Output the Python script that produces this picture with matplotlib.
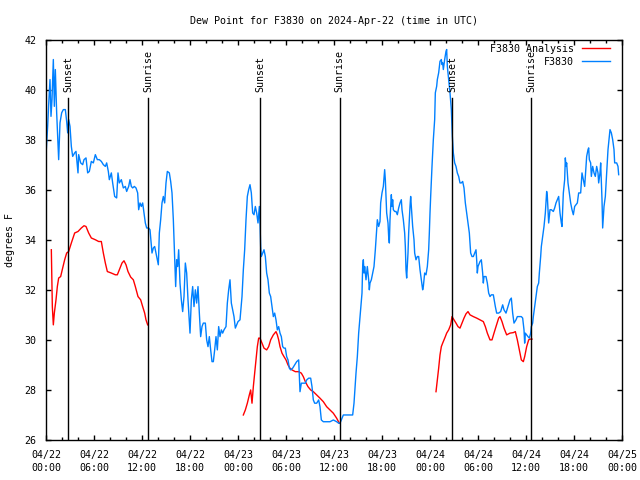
import matplotlib
matplotlib.use('Agg')
import matplotlib.pyplot as plt
import matplotlib.dates as mdates
import pandas as pd

# minutes after 2024-04-22 00:00 UTC and dew point (deg F)
obs_min = [0, 12.5, 20, 30, 37.5, 45, 55, 62.5, 70, 80, 90, 95, 105, 117.5, 130, 145, 155, 162.5, 170, 180,
           190, 200, 215, 225, 240, 245, 260, 275, 285, 300, 312.5, 325, 340, 355, 370, 385, 400, 415, 430, 445,
           455, 467.5, 475, 490, 500, 515, 530, 540, 550, 565, 580, 595, 605, 620, 630, 640, 650, 662.5, 675, 687.5,
           695, 705, 715, 725, 735, 745, 755, 770, 780, 787.5, 795, 805, 815, 825, 835, 842.5, 850, 860, 870, 880,
           890, 900, 910, 925, 935, 945, 955, 965, 972.5, 980, 987.5, 995, 1005, 1015, 1025, 1035, 1045, 1055, 1065, 1075,
           1080, 1090, 1100, 1110, 1120, 1130, 1140, 1150, 1160, 1170, 1180, 1195, 1205, 1215, 1225, 1235, 1245, 1255, 1265, 1275,
           1285, 1295, 1305, 1315, 1325, 1335, 1350, 1360, 1370, 1380, 1390, 1400, 1410, 1420, 1430, 1440, 1455, 1470, 1480, 1490,
           1500, 1510, 1520, 1530, 1540, 1550, 1560, 1570, 1580, 1590, 1600, 1605, 1610, 1615, 1625, 1635, 1645, 1655, 1665, 1675,
           1685, 1695, 1705, 1715, 1725, 1735, 1745, 1755, 1765, 1775, 1785, 1795, 1805, 1815, 1825, 1835, 1850, 1865, 1880, 1895,
           1905, 1915, 1930, 1945, 1955, 1970, 1985, 1995, 2005, 2015, 2030, 2045, 2055, 2065, 2080, 2105, 2130, 2155, 2180, 2195,
           2205, 2220, 2230, 2255, 2280, 2300, 2310, 2315, 2325, 2335, 2345, 2355, 2365, 2370, 2375, 2380, 2385, 2390, 2395, 2400,
           2410, 2420, 2425, 2430, 2440, 2450, 2460, 2470, 2480, 2485, 2495, 2505, 2510, 2520, 2530, 2540, 2545, 2555, 2565, 2570,
           2575, 2580, 2590, 2595, 2600, 2605, 2615, 2625, 2635, 2645, 2655, 2665, 2670, 2680, 2690, 2695, 2700, 2705, 2715, 2720,
           2725, 2730, 2735, 2740, 2750, 2760, 2765, 2775, 2785, 2795, 2805, 2815, 2825, 2830, 2840, 2850, 2860, 2870, 2875, 2880,
           2885, 2895, 2905, 2915, 2920, 2930, 2935, 2945, 2955, 2965, 2970, 2975, 2980, 2990, 3000, 3005, 3010, 3020, 3030, 3040,
           3047.5, 3055, 3065, 3075, 3085, 3095, 3105, 3115, 3125, 3135, 3145, 3155, 3165, 3175, 3185, 3195, 3205, 3215, 3225, 3230,
           3235, 3240, 3250, 3255, 3265, 3275, 3280, 3285, 3300, 3310, 3320, 3330, 3340, 3355, 3370, 3380, 3395, 3410, 3425, 3435,
           3450, 3465, 3480, 3490, 3500, 3510, 3525, 3535, 3550, 3565, 3575, 3585, 3590, 3595, 3605, 3615, 3625, 3635, 3640, 3650,
           3655, 3665, 3675, 3685, 3695, 3700, 3710, 3715, 3725, 3735, 3745, 3755, 3760, 3765, 3770, 3775, 3780, 3790, 3805, 3815,
           3825, 3835, 3845, 3855, 3865, 3870, 3880, 3890, 3895, 3900, 3905, 3915, 3925, 3935, 3945, 3955, 3965, 3975, 3985, 3995,
           4010, 4020, 4030, 4040, 4050, 4055, 4065, 4070, 4075, 4085, 4090, 4100, 4110, 4120, 4130, 4140, 4145, 4155, 4160, 4170,
           4175, 4185, 4195, 4205, 4215, 4225, 4230, 4240, 4250, 4260, 4265, 4280, 4290, 4295]
obs_dewp = [37.4, 38.53, 39.4, 40.4, 38.93, 39.6, 41.2, 39.33, 40.8, 39.07, 37.87, 37.2, 38.67, 39.07, 39.2, 39.2, 38.73, 38.27, 38.8, 38.53,
            37.73, 37.33, 37.47, 37.53, 36.67, 37.4, 37.07, 37.0, 37.2, 37.27, 36.67, 36.73, 37.13, 37.07, 37.4, 37.2, 37.2, 37.13, 37.0, 36.93,
            37.07, 36.73, 36.4, 36.67, 36.27, 35.73, 35.67, 36.67, 36.27, 36.4, 36.07, 36.13, 35.93, 36.13, 36.4, 36.13, 36.07, 36.13, 36.07, 35.87,
            35.2, 35.47, 35.33, 35.47, 35.07, 34.67, 34.47, 34.47, 34.4, 33.93, 33.47, 33.67, 33.73, 33.47, 33.2, 33.0, 34.27, 34.8, 35.47, 35.73,
            35.47, 36.27, 36.73, 36.67, 36.33, 35.87, 34.8, 33.33, 32.13, 33.2, 32.93, 33.6, 32.27, 31.6, 31.13, 31.73, 33.07, 32.67, 31.6, 30.67,
            30.27, 31.6, 32.13, 31.33, 32.0, 31.47, 32.13, 31.07, 30.13, 30.53, 30.67, 30.67, 30.0, 29.73, 30.13, 29.6, 29.13, 29.13, 29.6, 30.13,
            29.6, 30.53, 30.13, 30.4, 30.27, 30.4, 30.53, 31.47, 32.0, 32.4, 31.47, 31.2, 30.93, 30.47, 30.6, 30.73, 30.8, 31.73, 32.8, 33.6,
            34.8, 35.73, 36.0, 36.2, 35.87, 35.07, 35.0, 35.33, 35.07, 34.67, 35.33, 34.67, 33.73, 33.33, 33.47, 33.6, 33.33, 32.67, 32.4, 31.87,
            31.73, 31.33, 30.93, 31.07, 30.8, 30.4, 30.53, 30.27, 30.13, 29.73, 29.67, 29.67, 29.33, 29.2, 28.87, 28.8, 28.87, 29.0, 29.13, 29.2,
            27.93, 28.27, 28.27, 28.27, 28.4, 28.47, 28.47, 28.13, 27.6, 27.47, 27.47, 27.6, 27.33, 26.8, 26.73, 26.73, 26.73, 26.8, 26.73, 26.67,
            26.67, 26.87, 27.0, 27.0, 27.0, 27.0, 27.47, 27.87, 28.67, 29.33, 30.27, 30.93, 31.6, 31.87, 32.93, 33.2, 32.67, 32.93, 32.67, 32.4,
            32.93, 32.4, 32.0, 32.27, 32.4, 32.67, 32.93, 33.6, 34.4, 34.8, 34.53, 34.73, 35.47, 35.87, 36.13, 36.8, 36.4, 35.07, 34.67, 34.13,
            33.87, 34.8, 35.8, 35.33, 35.6, 35.2, 35.13, 35.13, 35.0, 35.27, 35.47, 35.6, 35.2, 34.8, 34.27, 33.73, 32.8, 32.47, 33.47, 34.27,
            34.8, 35.33, 35.73, 35.33, 34.53, 34.0, 33.47, 33.2, 33.33, 33.33, 32.8, 32.4, 32.0, 32.13, 32.67, 32.6, 32.93, 33.6, 34.27, 35.07,
            35.73, 36.93, 38.0, 38.8, 39.87, 40.13, 40.4, 40.67, 41.13, 41.2, 41.0, 41.07, 40.8, 41.2, 41.53, 41.6, 40.93, 40.4, 39.87, 39.2,
            38.13, 37.47, 37.07, 36.93, 36.67, 36.53, 36.27, 36.27, 36.33, 36.07, 35.47, 35.07, 34.67, 34.27, 33.47, 33.33, 33.33, 33.47, 33.6, 33.2,
            32.67, 32.93, 33.07, 33.13, 33.2, 32.67, 32.27, 32.53, 32.53, 32.27, 31.87, 31.73, 31.8, 31.8, 31.33, 31.07, 31.07, 31.13, 31.4, 31.2,
            31.07, 31.33, 31.6, 31.67, 31.07, 30.67, 30.8, 30.93, 30.93, 30.93, 30.87, 30.4, 29.87, 30.27, 30.2, 30.13, 30.07, 30.27, 30.53, 30.67,
            30.93, 31.33, 31.73, 32.13, 32.27, 32.67, 33.33, 33.73, 34.13, 34.53, 35.07, 35.93, 35.73, 35.2, 34.67, 34.93, 35.2, 35.2, 35.13, 35.27,
            35.47, 35.6, 35.73, 35.07, 34.67, 34.53, 35.87, 36.4, 37.27, 36.93, 37.07, 36.27, 35.87, 35.47, 35.2, 35.0, 35.33, 35.4, 35.47, 35.87,
            35.87, 36.67, 36.4, 36.13, 36.93, 37.33, 37.6, 37.67, 37.2, 37.07, 36.53, 36.93, 36.67, 36.53, 36.93, 36.67, 36.27, 36.67, 37.07, 35.6,
            34.47, 35.33, 35.73, 36.67, 37.6, 38.13, 38.4, 38.27, 38.0, 37.6, 37.07, 37.07, 36.93, 36.6]

# analysis series, three separate segments
ana_min = [
    [40, 47.5, 55, 62.5, 75, 85, 95, 110, 125, 140, 155, 170, 190, 215, 240, 265, 285, 300, 320, 340,
     370, 395, 415, 430, 445, 460, 490, 520, 535, 550, 570, 585, 600, 615, 635, 655, 670, 690, 710, 725,
     740, 750, 762.5],
    [1480, 1495, 1510, 1525, 1535, 1545, 1555, 1565, 1575, 1585, 1595, 1605, 1620, 1635, 1655, 1670, 1685, 1705, 1725, 1735,
     1745, 1755, 1770, 1785, 1800, 1815, 1830, 1845, 1870, 1895, 1915, 1930, 1945, 1965, 1985, 2005, 2030, 2055, 2080, 2105,
     2130, 2155, 2180, 2200],
    [2925, 2935, 2945, 2955, 2965, 2975, 2985, 2995, 3005, 3020, 3035, 3045, 3060, 3075, 3090, 3105, 3120, 3135, 3150, 3165,
     3180, 3205, 3230, 3255, 3280, 3295, 3310, 3330, 3345, 3360, 3375, 3395, 3405, 3420, 3435, 3455, 3480, 3505, 3520, 3535,
     3550, 3565, 3580, 3590, 3605, 3620, 3630, 3645],
]
ana_dewp = [
    [33.6, 31.33, 30.6, 31.07, 31.6, 32.13, 32.47, 32.53, 32.87, 33.2, 33.47, 33.53, 33.87, 34.27, 34.33, 34.47, 34.56, 34.53, 34.27, 34.07,
     34.0, 33.93, 33.93, 33.47, 33.07, 32.73, 32.67, 32.6, 32.6, 32.8, 33.07, 33.16, 33.0, 32.73, 32.51, 32.4, 32.13, 31.73, 31.6, 31.33,
     31.07, 30.8, 30.6],
    [27.0, 27.2, 27.47, 27.8, 28.0, 27.47, 28.13, 28.67, 29.2, 29.73, 30.07, 30.07, 29.87, 29.67, 29.6, 29.73, 30.0, 30.2, 30.33, 30.2,
     30.0, 29.73, 29.47, 29.33, 29.2, 29.0, 28.87, 28.8, 28.73, 28.73, 28.67, 28.53, 28.33, 28.13, 28.0, 27.93, 27.8, 27.67, 27.53, 27.33,
     27.2, 27.07, 26.87, 26.67],
    [27.93, 28.4, 28.87, 29.4, 29.73, 29.87, 30.0, 30.13, 30.27, 30.4, 30.6, 30.93, 30.8, 30.67, 30.53, 30.47, 30.67, 30.87, 31.04, 31.13,
     31.0, 30.93, 30.87, 30.8, 30.73, 30.53, 30.27, 30.0, 30.0, 30.27, 30.53, 30.87, 30.93, 30.73, 30.47, 30.2, 30.27, 30.29, 30.33, 30.0,
     29.6, 29.2, 29.13, 29.33, 29.73, 30.0, 30.03, 30.03],
]

sunset_min = [168, 1607, 3047]
sunrise_min = [768, 2202, 3639]

start = pd.Timestamp('2024-04-22 00:00')
def to_time(mins):
    return start + pd.to_timedelta(mins, unit='min')

plt.rcParams['font.family'] = 'DejaVu Sans Mono'
plt.rcParams['font.size'] = 7.2

fig = plt.figure(figsize=(6.4, 4.8), dpi=100)
ax = fig.add_axes([46 / 640, 40 / 480, 576 / 640, 400.5 / 480])

for i in range(len(ana_min)):
    ax.plot(to_time(ana_min[i]), ana_dewp[i], color='#ff0000', linewidth=1,
            label='F3830 Analysis' if i == 0 else None)
ax.plot(to_time(obs_min), obs_dewp, color='#0080ff', linewidth=1, label='F3830')

for name, marks in (('Sunset', sunset_min), ('Sunrise', sunrise_min)):
    for m in marks:
        t = to_time(m)
        ax.plot([t, t], [26, 39.65], color='black', linewidth=1)
        ax.text(t, 39.9, name, rotation=90, ha='center', va='bottom', fontsize=7.2)

ax.set_xlim(start, start + pd.Timedelta(hours=72))
ax.set_ylim(26, 42)
ax.set_yticks(range(26, 43, 2))
ax.xaxis.set_major_locator(mdates.HourLocator(byhour=[0, 6, 12, 18]))
ax.xaxis.set_minor_locator(mdates.HourLocator(byhour=range(0, 24, 2)))
ax.xaxis.set_major_formatter(mdates.DateFormatter('%m/%d\n%H:%M'))
ax.tick_params(which='both', direction='in', top=True, right=True, width=1)
ax.tick_params(which='major', length=3.5, pad=7)
ax.tick_params(which='minor', length=2.2)
for s in ax.spines.values():
    s.set_linewidth(1)

ax.set_ylabel('degrees F', va='center')
ax.yaxis.set_label_coords(-36 / 576, 0.5)
ax.set_title('Dew Point for F3830 on 2024-Apr-22 (time in UTC)', fontsize=7.2, pad=11)
ax.legend(loc='upper right', bbox_to_anchor=(0.979, 0.99), borderpad=0, borderaxespad=0,
          frameon=False, markerfirst=False, handlelength=2.8, handletextpad=0.8, labelspacing=0.3)

fig.canvas.draw()
for lbl in ax.get_xticklabels():
    lbl.set_linespacing(1.35)

plt.savefig('out.png', dpi=100)
